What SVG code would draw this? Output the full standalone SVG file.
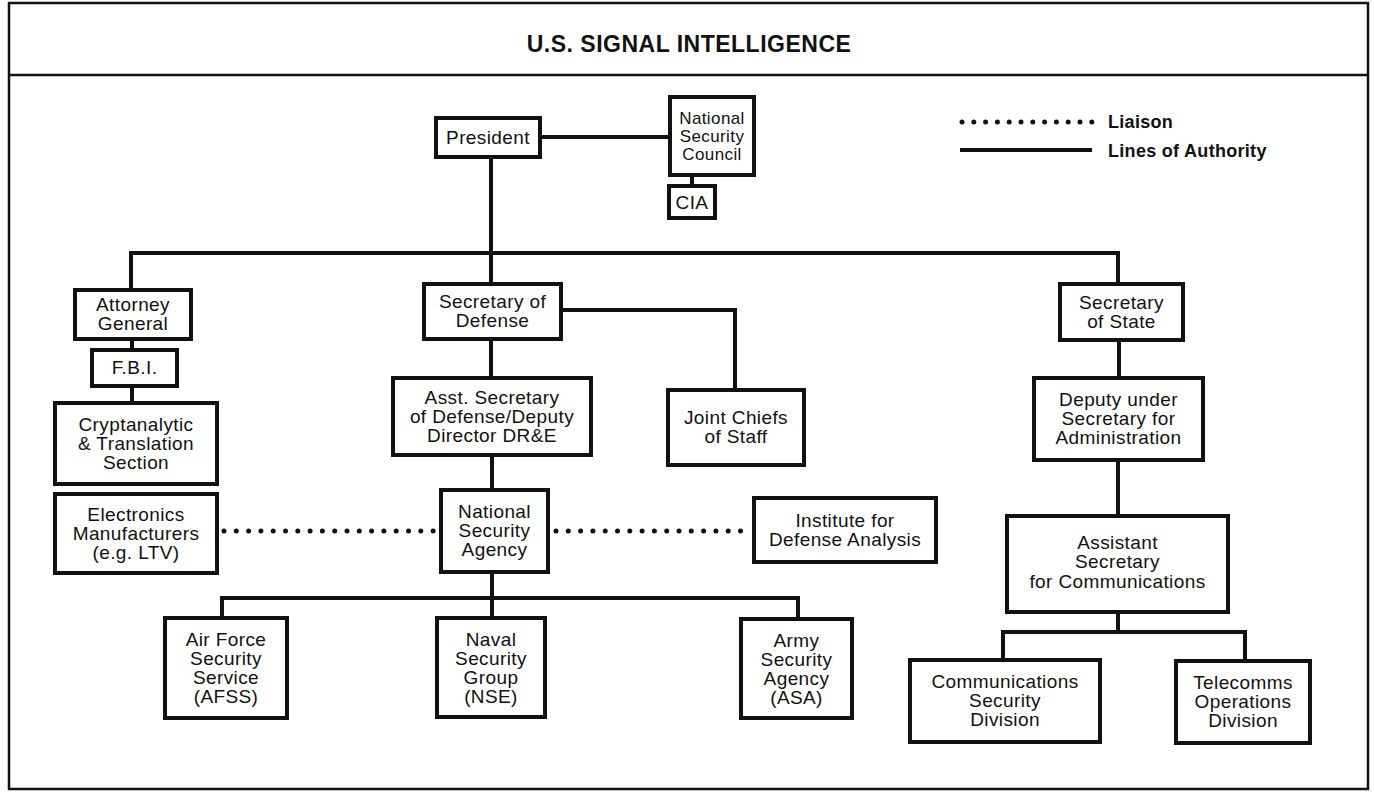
<svg xmlns="http://www.w3.org/2000/svg" width="1374" height="795" viewBox="0 0 1374 795">
<style>
.frame{fill:none;stroke:#111;stroke-width:2.5}
.box{fill:#fff;stroke:#111;stroke-width:4}
.line{fill:none;stroke:#111;stroke-width:4}
.dot{fill:none;stroke:#111;stroke-width:5;stroke-linecap:round;stroke-dasharray:0 12.3}
text{font-family:"Liberation Sans",Arial,sans-serif;font-size:19px;letter-spacing:0.4px;fill:#111;text-anchor:middle}
.small{font-size:17px}
.title{font-size:23px;font-weight:bold;letter-spacing:0.5px}
.leg{font-size:18px;font-weight:bold;text-anchor:start;letter-spacing:0.3px}
</style>
<rect class="frame" x="9" y="3" width="1359" height="786"/>
<line class="frame" x1="9" y1="75" x2="1368" y2="75"/>
<text class="title" x="689" y="52">U.S. SIGNAL INTELLIGENCE</text>
<g id="legend">
<line class="dot" x1="962" y1="122" x2="1092" y2="122" style="stroke-dasharray:0 11.8"/>
<text class="leg" x="1108" y="128">Liaison</text>
<line class="line" x1="960" y1="150" x2="1092" y2="150"/>
<text class="leg" x="1108" y="157">Lines of Authority</text>
</g>
<g id="connectors">
<path class="line" d="M540 137H670"/>
<path class="line" d="M692 175V186"/>
<path class="line" d="M491 157V284"/>
<path class="line" d="M131 290V253H1118V284"/>
<path class="line" d="M561 310H735V390"/>
<path class="line" d="M491 339V378"/>
<path class="line" d="M492 455V490"/>
<path class="line" d="M492 572V618"/>
<path class="line" d="M222 618V598H798V619"/>
<path class="line" d="M132 339V350"/>
<path class="line" d="M132 386V403"/>
<path class="line" d="M1119 340V378"/>
<path class="line" d="M1118 460V516"/>
<path class="line" d="M1118 612V632"/>
<path class="line" d="M1003 660V632H1245V661"/>
<path class="dot" d="M224 531H434"/>
<path class="dot" d="M556 531H748"/>
</g>
<g id="president"><rect class="box" x="436" y="118" width="104" height="39"/><text x="488" y="144">President</text></g>
<g id="nsc"><rect class="box" x="670" y="97" width="84" height="78"/><text class="small" x="712" y="124">National</text><text class="small" x="712" y="142">Security</text><text class="small" x="712" y="160">Council</text></g>
<g id="cia"><rect class="box" x="669" y="186" width="46" height="32"/><text x="692" y="209">CIA</text></g>
<g id="ag"><rect class="box" x="75" y="290" width="116" height="49"/><text x="133" y="311">Attorney</text><text x="133" y="330">General</text></g>
<g id="fbi"><rect class="box" x="92" y="350" width="85" height="36"/><text x="134.5" y="374">F.B.I.</text></g>
<g id="crypt"><rect class="box" x="55" y="403" width="162" height="81"/><text x="136" y="431">Cryptanalytic</text><text x="136" y="450">&amp; Translation</text><text x="136" y="469">Section</text></g>
<g id="electronics"><rect class="box" x="55" y="494" width="162" height="79"/><text x="136" y="521">Electronics</text><text x="136" y="540">Manufacturers</text><text x="136" y="559">(e.g. LTV)</text></g>
<g id="secdef"><rect class="box" x="424" y="284" width="137" height="55"/><text x="492.5" y="308">Secretary of</text><text x="492.5" y="327">Defense</text></g>
<g id="jcs"><rect class="box" x="668" y="390" width="136" height="75"/><text x="736" y="424">Joint Chiefs</text><text x="736" y="443">of Staff</text></g>
<g id="asstdef"><rect class="box" x="393" y="378" width="198" height="77"/><text x="492" y="404">Asst. Secretary</text><text x="492" y="423">of Defense/Deputy</text><text x="492" y="442">Director DR&amp;E</text></g>
<g id="nsa"><rect class="box" x="441" y="490" width="107" height="82"/><text x="494.5" y="518">National</text><text x="494.5" y="537">Security</text><text x="494.5" y="556">Agency</text></g>
<g id="ida"><rect class="box" x="754" y="498" width="182" height="64"/><text x="845" y="527">Institute for</text><text x="845" y="546">Defense Analysis</text></g>
<g id="afss"><rect class="box" x="165" y="618" width="122" height="100"/><text x="226" y="646">Air Force</text><text x="226" y="665">Security</text><text x="226" y="684">Service</text><text x="226" y="703">(AFSS)</text></g>
<g id="nsg"><rect class="box" x="437" y="618" width="108" height="99"/><text x="491" y="646">Naval</text><text x="491" y="665">Security</text><text x="491" y="684">Group</text><text x="491" y="703">(NSE)</text></g>
<g id="asa"><rect class="box" x="741" y="619" width="111" height="99"/><text x="796.5" y="647">Army</text><text x="796.5" y="666">Security</text><text x="796.5" y="685">Agency</text><text x="796.5" y="704">(ASA)</text></g>
<g id="secstate"><rect class="box" x="1060" y="284" width="123" height="56"/><text x="1121.5" y="309">Secretary</text><text x="1121.5" y="328">of State</text></g>
<g id="depunder"><rect class="box" x="1034" y="378" width="169" height="82"/><text x="1118.5" y="406">Deputy under</text><text x="1118.5" y="425">Secretary for</text><text x="1118.5" y="444">Administration</text></g>
<g id="asstcomm"><rect class="box" x="1007" y="516" width="221" height="96"/><text x="1117.5" y="549">Assistant</text><text x="1117.5" y="568">Secretary</text><text x="1117.5" y="588">for Communications</text></g>
<g id="commsec"><rect class="box" x="910" y="660" width="190" height="82"/><text x="1005" y="688">Communications</text><text x="1005" y="707">Security</text><text x="1005" y="726">Division</text></g>
<g id="telecomms"><rect class="box" x="1176" y="661" width="134" height="82"/><text x="1243" y="689">Telecomms</text><text x="1243" y="708">Operations</text><text x="1243" y="727">Division</text></g>
</svg>
